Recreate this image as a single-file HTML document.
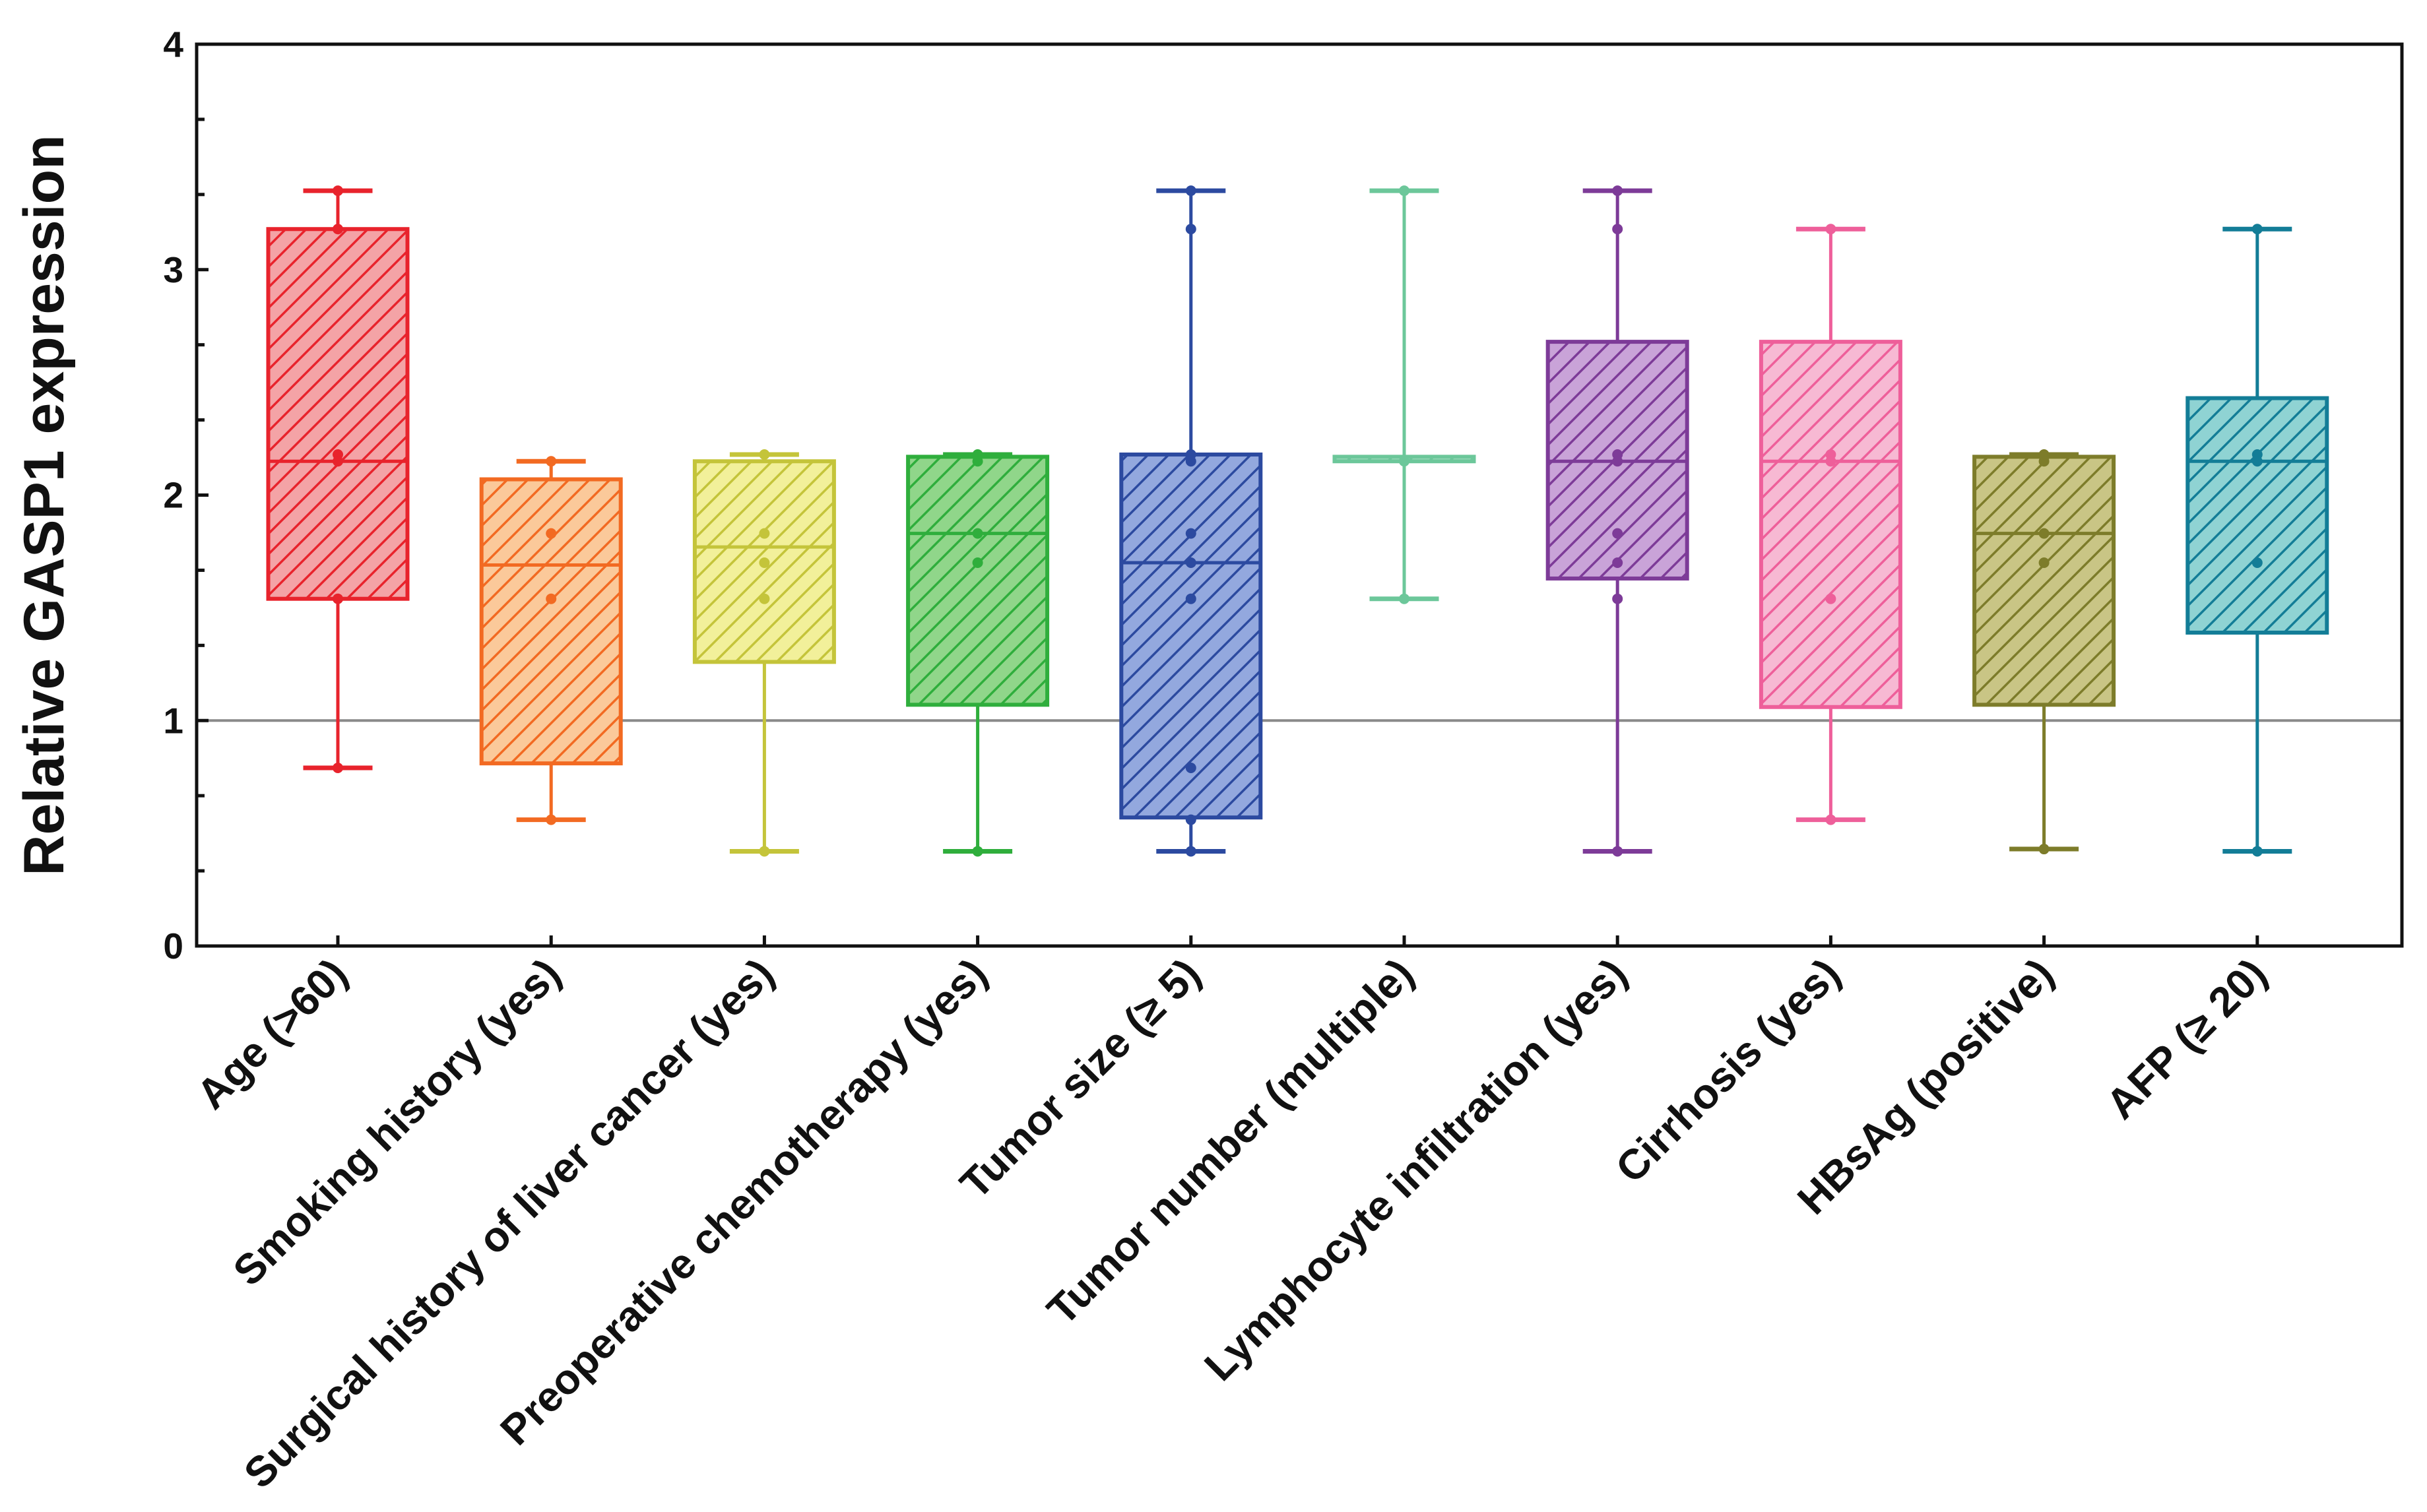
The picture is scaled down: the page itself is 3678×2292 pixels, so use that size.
<!DOCTYPE html>
<html><head><meta charset="utf-8"><style>
html,body{margin:0;padding:0;background:#fff;}
svg{display:block;font-family:"Liberation Sans",Arial,sans-serif;}
</style></head><body>
<svg id="chart" width="3678" height="2292" viewBox="0 0 3678 2292" xmlns="http://www.w3.org/2000/svg">
<defs id="defs"></defs>
<g id="plot"></g>
</svg>
<script>
const categories = ["Age (>60)","Smoking history (yes)","Surgical history of liver cancer (yes)","Preoperative chemotherapy (yes)","Tumor size (\u2265 5)","Tumor number (multiple)","Lymphocyte infiltration (yes)","Cirrhosis (yes)","HBsAg (positive)","AFP (\u2265 20)"];
const whiskerLow  = [0.79,0.56,0.42,0.42,0.42,1.54,0.42,0.56,0.43,0.42];
const whiskerHigh = [3.35,2.15,2.18,2.18,3.35,3.35,3.35,3.18,2.18,3.18];
const q1          = [1.54,0.81,1.26,1.07,0.57,2.15,1.63,1.06,1.07,1.39];
const q3          = [3.18,2.07,2.15,2.17,2.18,2.17,2.68,2.68,2.17,2.43];
const medians     = [2.15,1.69,1.77,1.83,1.70,2.15,2.15,2.15,1.83,2.15];
const points = [
 [3.35,3.18,2.18,2.15,1.54,0.79],
 [2.15,1.83,1.54,0.56],
 [2.18,1.83,1.70,1.54,0.42],
 [2.18,2.15,1.83,1.70,0.42],
 [3.35,3.18,2.18,2.15,1.83,1.70,1.54,0.79,0.56,0.42],
 [3.35,2.15,1.54],
 [3.35,3.18,2.18,2.15,1.83,1.70,1.54,0.42],
 [3.18,2.18,2.15,1.54,0.56],
 [2.18,2.15,1.83,1.70,0.43],
 [3.18,2.18,2.15,1.70,0.42]
];
const yTicks = [0,1,2,3,4];
const refValue = 1;
const strokeColors = ["#e8232c","#f26a22","#c4c43a","#2fae3c","#2c4aa0","#6cc79a","#7d3b98","#ee5f9a","#7d7c2a","#137d97"];
const fillColors   = ["#f4a3a6","#fbc99a","#f2f09a","#90d68a","#93a8de","#b5e3cb","#c9a3d8","#f7b9d3","#c9c585","#8fd3d3"];

const NS="http://www.w3.org/2000/svg";
const L=298,R=3640,T=67,B=1434;
const x0=512, step=323.2;
function xs(i){return x0+i*step;}
function ys(v){return B-(v/4)*(B-T);}
const svg=document.getElementById('chart'), defs=document.getElementById('defs'), g=document.getElementById('plot');
function mk(tag,attrs,parent){const e=document.createElementNS(NS,tag);for(const k in attrs)e.setAttribute(k,attrs[k]);(parent||g).appendChild(e);return e;}

categories.forEach((c,i)=>{
  const p=mk('pattern',{id:'hatch'+i,patternUnits:'userSpaceOnUse',width:22,height:22,patternTransform:'rotate(45)'},defs);
  mk('rect',{x:0,y:0,width:22,height:22,fill:fillColors[i]},p);
  mk('line',{x1:0,y1:0,x2:0,y2:22,stroke:strokeColors[i],'stroke-width':7},p);
});

const ref=mk('line',{x1:L,x2:R,y1:ys(refValue),y2:ys(refValue),stroke:'#8a8a8a','stroke-width':4});



const bw=211, cw=105;
categories.forEach((c,i)=>{
  const x=xs(i), col=strokeColors[i];
  const grp=mk('g',{});
  
  
  mk('line',{x1:x,x2:x,y1:ys(whiskerLow[i]),y2:ys(whiskerHigh[i]),stroke:col,'stroke-width':5},grp);
  mk('line',{x1:x-cw/2,x2:x+cw/2,y1:ys(whiskerLow[i]),y2:ys(whiskerLow[i]),stroke:col,'stroke-width':7},grp);
  mk('line',{x1:x-cw/2,x2:x+cw/2,y1:ys(whiskerHigh[i]),y2:ys(whiskerHigh[i]),stroke:col,'stroke-width':7},grp);
  const yt=ys(q3[i]), yb=ys(q1[i]);
  mk('rect',{x:x-bw/2,y:yt,width:bw,height:Math.max(yb-yt,1),fill:'url(#hatch'+i+')',stroke:col,'stroke-width':6},grp);
  mk('line',{x1:x-bw/2,x2:x+bw/2,y1:ys(medians[i]),y2:ys(medians[i]),stroke:col,'stroke-width':5},grp);
  points[i].forEach(v=>{
    const d=mk('circle',{cx:x,cy:ys(v),r:8,fill:col},grp);
    
    
  });
  mk('line',{x1:x,x2:x,y1:B,y2:B-16,stroke:'#111','stroke-width':5});
  const ax=x+18, ay=1480;
  const t=mk('text',{x:ax,y:ay,transform:'rotate(-45 '+ax+' '+ay+')','text-anchor':'end','font-size':64,'font-weight':'bold',fill:'#111'});
  t.textContent=c;
  
  
});

for(let k=0;k<=12;k++){
  const v=k/3, y=ys(v), major=(k%3===0);
  mk('line',{x1:L,x2:L+(major?18:12),y1:y,y2:y,stroke:'#111','stroke-width':5});
}
yTicks.forEach(v=>{
  const t=mk('text',{x:278,y:ys(v)+19,'text-anchor':'end','font-size':55,'font-weight':'bold',fill:'#111'});
  t.textContent=v;
  
  
});

const fr=mk('rect',{x:L,y:T,width:R-L,height:B-T,fill:'none',stroke:'#111','stroke-width':5});



const yt=mk('text',{x:0,y:0,transform:'translate(96 766) rotate(-90)','text-anchor':'middle','font-size':86,'font-weight':'bold',fill:'#111'});
yt.textContent='Relative GASP1 expression';


</script>
</body></html>
